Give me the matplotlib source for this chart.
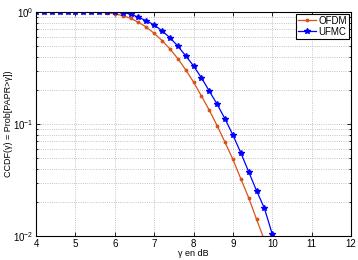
import numpy as np
import matplotlib
matplotlib.use("Agg")
import matplotlib.pyplot as plt

plt.rcParams['font.family'] = ['Liberation Sans', 'DejaVu Sans']

# gamma en dB, pas de 0.2
gamma = [4.0, 4.2, 4.4, 4.6, 4.8, 5.0, 5.2, 5.4, 5.6, 5.8,
         6.0, 6.2, 6.4, 6.6, 6.8, 7.0, 7.2, 7.4, 7.6, 7.8,
         8.0, 8.2, 8.4, 8.6, 8.8, 9.0, 9.2, 9.4, 9.6, 9.8, 10.0]

ofdm = [1.0, 1.0, 1.0, 1.0, 1.0, 1.0, 1.0, 0.999, 0.995, 0.985,
        0.962, 0.927, 0.879, 0.809, 0.734, 0.645, 0.556, 0.468, 0.384, 0.305,
        0.237, 0.178, 0.133, 0.0966, 0.0686, 0.0484, 0.0325, 0.022, 0.0141, 0.0092, 0.0058]

ufmc = [1.0, 1.0, 1.0, 1.0, 1.0, 1.0, 1.0, 1.0, 1.0, 0.998,
        0.995, 0.985, 0.96, 0.896, 0.837, 0.766, 0.68, 0.59, 0.497, 0.407,
        0.330, 0.259, 0.197, 0.150, 0.111, 0.0797, 0.0554, 0.0375, 0.0254, 0.0177, 0.0104]

fig = plt.figure(figsize=(3.58, 2.60), dpi=100)
ax = fig.add_axes([0.1006, 0.0923, 0.8799, 0.8616])

ax.semilogy(gamma, ofdm, '.-', color='#D95319', lw=0.9, ms=3.5, label='OFDM')
ax.semilogy(gamma, ufmc, '*-', color='#0000FF', lw=0.9, ms=4, label='UFMC')

ax.set_xlim(4, 12)
ax.set_ylim(1e-2, 1)
ax.set_xticks(range(4, 13))
ax.grid(True, which='major', ls=':', color='#b0b0b0', lw=0.6)
ax.grid(True, which='minor', axis='y', ls=':', color='#b0b0b0', lw=0.6)
ax.tick_params(which='both', direction='in', labelsize=7, top=True, right=True,
               length=3, width=0.6, pad=2)
ax.tick_params(which='minor', length=1.5)
for s in ax.spines.values():
    s.set_linewidth(0.8)

ax.set_xlabel('γ en dB', fontsize=6.5, labelpad=0)
ax.set_ylabel('CCDF(γ) = Prob[PAPR>γ])', fontsize=6.5, labelpad=0)

leg = ax.legend(loc='upper right', fontsize=7, fancybox=False, edgecolor='black',
                framealpha=1, borderpad=0.2, handlelength=1.8, handletextpad=0.3,
                labelspacing=0.1, borderaxespad=0.2)
leg.get_frame().set_linewidth(0.8)

fig.savefig('out.png', dpi=100)
